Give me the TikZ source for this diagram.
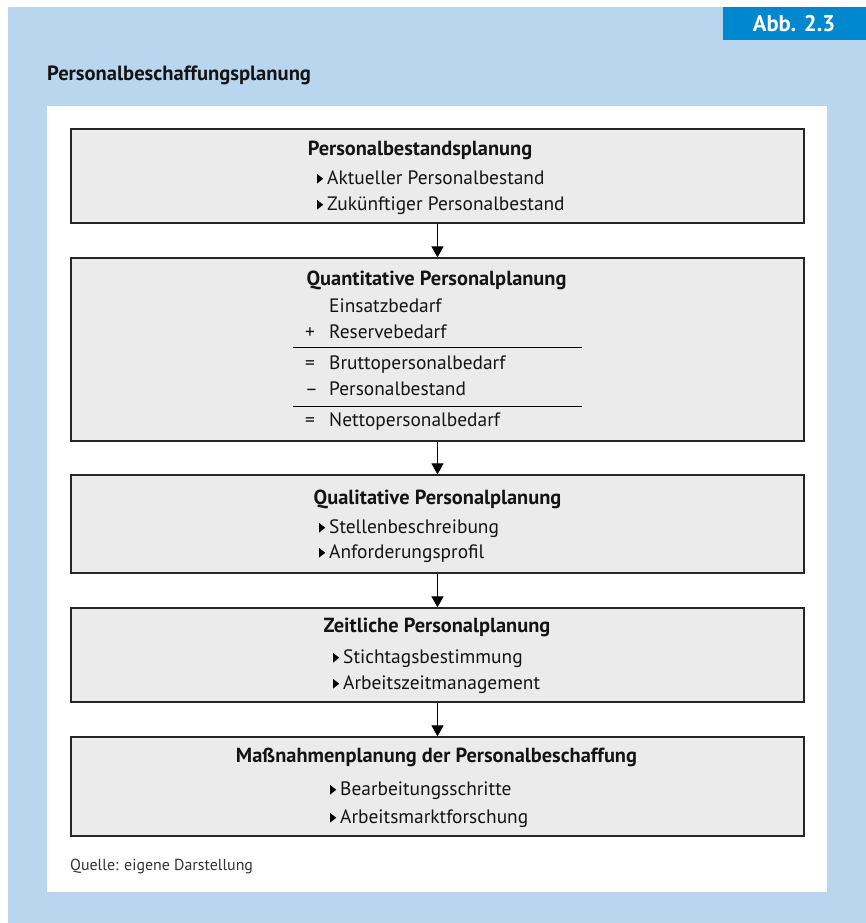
\documentclass[tikz,border=0pt]{standalone}
\usepackage{fontspec}
\setmainfont{PT Sans}
\usetikzlibrary{arrows.meta}
\definecolor{bgblue}{RGB}{185,214,238}
\definecolor{tagblue}{RGB}{0,136,206}
\definecolor{boxgray}{RGB}{235,235,235}
\definecolor{txt}{RGB}{20,20,20}
\newcommand{\tri}{\tikz[baseline=0pt,x=1pt,y=1pt]\fill[black] (0,0.5) -- (0,10) -- (6,5.25) -- cycle;\hspace{4pt}}
\tikzset{
  x=1pt, y=-1pt,
  stagebox/.style={draw=black!85, line width=1.3pt, fill=boxgray, rectangle, minimum width=733pt, inner sep=0pt},
  ttl/.style={anchor=base, inner sep=0pt, font=\fontsize{20.4}{22}\selectfont\bfseries, text=txt},
  itm/.style={anchor=base west, inner sep=0pt, font=\fontsize{19.4}{21}\selectfont, text=txt},
  flow/.style={draw=black, line width=1.2pt, -{Triangle[width=12pt,length=11pt]}},
  rule/.style={draw=black, line width=1.1pt}
}
\begin{document}
\begin{tikzpicture}
\useasboundingbox (0,0) rectangle (866,923);
\fill[white] (0,0) rectangle (866,923);
\fill[bgblue] (8,7) rectangle (866,923);
\node[fill=tagblue, minimum width=143pt, minimum height=33pt, inner sep=0pt, anchor=north west] (tag) at (723,7) {};
\node[anchor=base, inner sep=0pt, text=white, font=\fontsize{22.7}{25}\selectfont\bfseries] (tagtxt) at (794,32) {Abb. 2.3};
\node[anchor=base west, inner sep=0pt, text=txt, font=\fontsize{20.6}{22}\selectfont\bfseries] (maintitle) at (47,81) {Personalbeschaffungsplanung};
\fill[white] (47,106) rectangle (827,892);

% boxes
\node[stagebox, minimum height=94pt] (b1) at (437.5,176) {};
\node[stagebox, minimum height=183pt] (b2) at (437.5,349.5) {};
\node[stagebox, minimum height=98pt] (b3) at (437.5,524) {};
\node[stagebox, minimum height=94pt] (b4) at (437.5,655) {};
\node[stagebox, minimum height=99pt] (b5) at (437.5,786.5) {};

\draw[flow] (b1.south) -- (b2.north);
\draw[flow] (b2.south) -- (b3.north);
\draw[flow] (b3.south) -- (b4.north);
\draw[flow] (b4.south) -- (b5.north);

% box 1
\node[ttl] (t1) at (420,155) {Personalbestandsplanung};
\node[itm] (i11) at (317,184) {\tri Aktueller Personalbestand};
\node[itm] (i12) at (317,210) {\tri Zukünftiger Personalbestand};

% box 2
\node[ttl] (t2) at (436.5,285) {Quantitative Personalplanung};
\node[itm] (i21) at (329,312) {Einsatzbedarf};
\node[itm] (o22) at (305,338) {+};
\node[itm] (i22) at (329,338) {Reservebedarf};
\coordinate (r1a) at (293,347.5);
\coordinate (r1b) at (582,347.5);
\draw[rule] (r1a) -- (r1b);
\node[itm] (o23) at (305,369) {=};
\node[itm] (i23) at (329,369) {Bruttopersonalbedarf};
\node[itm] (o24) at (305,395) {–};
\node[itm] (i24) at (329,395) {Personalbestand};
\coordinate (r2a) at (293,406.5);
\coordinate (r2b) at (582,406.5);
\draw[rule] (r2a) -- (r2b);
\node[itm] (o25) at (305,426) {=};
\node[itm] (i25) at (329,426) {Nettopersonalbedarf};

% box 3
\node[ttl] (t3) at (437.5,504) {Qualitative Personalplanung};
\node[itm] (i31) at (319,533) {\tri Stellenbeschreibung};
\node[itm] (i32) at (319,558) {\tri Anforderungsprofil};

% box 4
\node[ttl] (t4) at (437,632) {Zeitliche Personalplanung};
\node[itm] (i41) at (333,663) {\tri Stichtagsbestimmung};
\node[itm] (i42) at (333,689) {\tri Arbeitszeitmanagement};

% box 5
\node[ttl] (t5) at (436.5,762) {Maßnahmenplanung der Personalbeschaffung};
\node[itm] (i51) at (330,795) {\tri Bearbeitungsschritte};
\node[itm] (i52) at (330,823) {\tri Arbeitsmarktforschung};

\node[anchor=base west, inner sep=0pt, text=black!80, font=\fontsize{15.9}{17}\selectfont] (src) at (70,870) {Quelle: eigene Darstellung};
\end{tikzpicture}
\end{document}
